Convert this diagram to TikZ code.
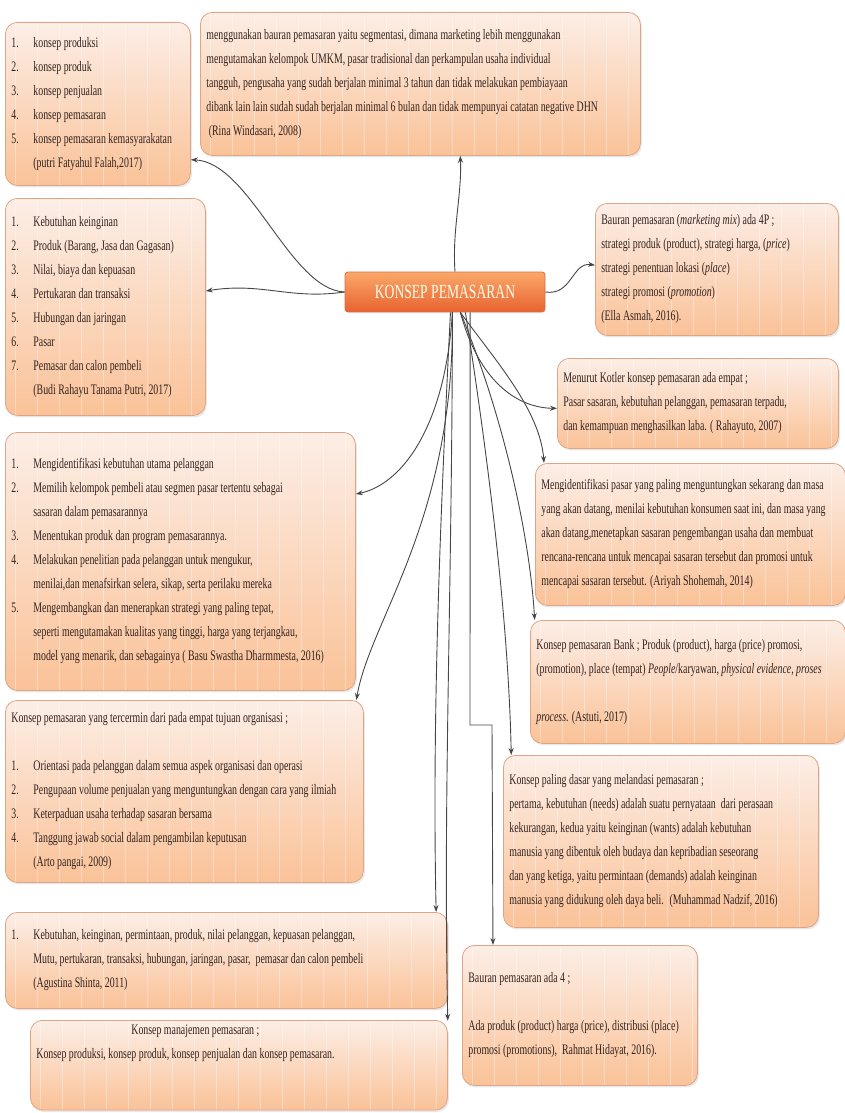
\documentclass[tikz,border=0pt]{standalone}
\usepackage{fontspec}
\setmainfont{Liberation Serif}
\newfontfamily\boxfont[FakeStretch=0.68]{Liberation Serif}
\usetikzlibrary{arrows.meta, shadows}

\definecolor{boxtop}{RGB}{252,238,230}
\definecolor{boxbot}{RGB}{250,194,152}
\definecolor{boxline}{RGB}{222,166,134}
\definecolor{hubtop}{RGB}{250,168,105}
\definecolor{hubbot}{RGB}{232,98,48}
\definecolor{hubline}{RGB}{214,110,70}
\definecolor{ink}{RGB}{50,34,30}
\definecolor{wire}{RGB}{70,70,70}

\newcommand{\nr}[1]{\makebox[22pt][l]{#1.}}
\newcommand{\ind}{\hspace*{22pt}}

\tikzset{
  box/.style={draw=boxline, line width=0.8pt, rounded corners=12pt,
    top color=boxtop, bottom color=boxbot, anchor=north west, align=flush left,
    inner xsep=6pt, inner ysep=4pt, text=ink,
    font=\boxfont\fontsize{14.5}{24}\selectfont,
    drop shadow={opacity=0.18, shadow xshift=1.5pt, shadow yshift=-2pt},
    path picture={\foreach \s in {0,...,40}
      \draw[white, opacity=0.35, line width=1.2pt]
        ([xshift=\s*22pt+10pt]path picture bounding box.south west) --
        ([xshift=\s*22pt+10pt]path picture bounding box.north west);}},
  hub/.style={draw=hubline, line width=0.8pt, rounded corners=3pt,
    top color=hubtop, bottom color=hubbot, minimum width=200pt,
    minimum height=40pt, text={white!92!yellow},
    font=\boxfont\fontsize{20}{20}\selectfont},
  wire/.style={draw=wire, line width=0.9pt, ->},
}

\begin{document}
\begin{tikzpicture}[x=1pt, y=-1pt, >={Stealth[length=7pt,width=5pt]}]
    \useasboundingbox (0,0) rectangle (845,1113);
    % Centre
    \node[hub] (KP) at (445,292) {KONSEP PEMASARAN};
    % Boxes, top left to bottom right
    \node[box, text width=173pt, minimum height=163pt] (B1) at (5,22)
      {\nr{1}konsep produksi\\ \nr{2}konsep produk\\ \nr{3}konsep penjualan\\
       \nr{4}konsep pemasaran\\ \nr{5}konsep pemasaran kemasyarakatan\\
       \ind(putri Fatyahul Falah,2017)};
    \node[box, text width=428pt, minimum height=143pt] (B2) at (200,12)
      {menggunakan bauran pemasaran yaitu segmentasi, dimana marketing lebih menggunakan\\
       mengutamakan kelompok UMKM, pasar tradisional dan perkampulan usaha individual\\
       tangguh, pengusaha yang sudah berjalan minimal 3 tahun dan tidak melakukan pembiayaan\\
       dibank lain lain sudah sudah berjalan minimal 6 bulan dan tidak mempunyai catatan negative DHN\\
       \ (Rina Windasari, 2008)};
    \node[box, text width=188pt, minimum height=217pt] (B3) at (5,198)
      {\nr{1}Kebutuhan keinginan\\ \nr{2}Produk (Barang, Jasa dan Gagasan)\\
       \nr{3}Nilai, biaya dan kepuasan\\ \nr{4}Pertukaran dan transaksi\\
       \nr{5}Hubungan dan jaringan\\ \nr{6}Pasar\\ \nr{7}Pemasar dan calon pembeli\\
       \ind(Budi Rahayu Tanama Putri, 2017)};
    \node[box, text width=231pt, minimum height=132pt] (B4) at (595,203)
      {Bauran pemasaran (\textit{marketing mix}) ada 4P ;\\
       strategi produk (product), strategi harga, (\textit{price})\\
       strategi penentuan lokasi (\textit{place})\\
       strategi promosi (\textit{promotion})\\
       (Ella Asmah, 2016).};
    \node[box, text width=269pt, minimum height=90pt] (B5) at (557,358)
      {Menurut Kotler konsep pemasaran ada empat ;\\
       Pasar sasaran, kebutuhan pelanggan, pemasaran terpadu,\\
       dan kemampuan menghasilkan laba. ( Rahayuto, 2007)};
    \node[box, text width=298pt, minimum height=142pt] (B6) at (535,463)
      {Mengidentifikasi pasar yang paling menguntungkan sekarang dan masa\\
       yang akan datang, menilai kebutuhan konsumen saat ini, dan masa yang\\
       akan datang,menetapkan sasaran pengembangan usaha dan membuat\\
       rencana-rencana untuk mencapai sasaran tersebut dan promosi untuk\\
       mencapai sasaran tersebut. (Ariyah Shohemah, 2014)};
    \node[box, text width=338pt, minimum height=258pt] (B7) at (5,432)
      {\nr{1}Mengidentifikasi kebutuhan utama pelanggan\\
       \nr{2}Memilih kelompok pembeli atau segmen pasar tertentu sebagai\\
       \ind sasaran dalam pemasarannya\\
       \nr{3}Menentukan produk dan program pemasarannya.\\
       \nr{4}Melakukan penelitian pada pelanggan untuk mengukur,\\
       \ind menilai,dan menafsirkan selera, sikap, serta perilaku mereka\\
       \nr{5}Mengembangkan dan menerapkan strategi yang paling tepat,\\
       \ind seperti mengutamakan kualitas yang tinggi, harga yang terjangkau,\\
       \ind model yang menarik, dan sebagainya ( Basu Swastha Dharmmesta, 2016)};
    \node[box, text width=303pt, minimum height=123pt] (B8) at (530,620)
      {Konsep pemasaran Bank ; Produk (product), harga (price) promosi,\\
       (promotion), place (tempat) \textit{People}/karyawan, \textit{physical evidence, proses}\\[24pt]
       \textit{process}. (Astuti, 2017)};
    \node[box, text width=346pt, minimum height=182pt] (B9) at (5,700)
      {Konsep pemasaran yang tercermin dari pada empat tujuan organisasi ;\\[24pt]
       \nr{1}Orientasi pada pelanggan dalam semua aspek organisasi dan operasi\\
       \nr{2}Pengupaan volume penjualan yang menguntungkan dengan cara yang ilmiah\\
       \nr{3}Keterpaduan usaha terhadap sasaran bersama\\
       \nr{4}Tanggung jawab social dalam pengambilan keputusan\\
       \ind (Arto pangai, 2009)};
    \node[box, text width=303pt, minimum height=172pt] (B10) at (503,755)
      {Konsep paling dasar yang melandasi pemasaran ;\\
       pertama, kebutuhan (needs) adalah suatu pernyataan \ dari perasaan\\
       kekurangan, kedua yaitu keinginan (wants) adalah kebutuhan\\
       manusia yang dibentuk oleh budaya dan kepribadian seseorang\\
       dan yang ketiga, yaitu permintaan (demands) adalah keinginan\\
       manusia yang didukung oleh daya beli. \ (Muhammad Nadzif, 2016)};
    \node[box, text width=430pt, minimum height=96pt] (B11) at (5,912)
      {\nr{1}Kebutuhan, keinginan, permintaan, produk, nilai pelanggan, kepuasan pelanggan,\\
       \ind Mutu, pertukaran, transaksi, hubungan, jaringan, pasar, \ pemasar dan calon pembeli\\
       \ind (Agustina Shinta, 2011)};
    \node[box, text width=223pt, minimum height=140pt] (B12) at (462,945)
      {Bauran pemasaran ada 4 ;\\[24pt]
       Ada produk (product) harga (price), distribusi (place)\\
       promosi (promotions), \ Rahmat Hidayat, 2016).};
    \node[box, text width=405pt, minimum height=85pt] (B13) at (30,1020)
      {\hspace*{95pt}Konsep manajemen pemasaran ;\\
       Konsep produksi, konsep produk, konsep penjualan dan konsep pemasaran.\\
       \mbox{}\\ \mbox{}};
    % Connectors from the centre
    \draw[wire] (KP.west) .. controls (290,290) and (250,162) .. (B1.-31);
    \draw[wire] ([xshift=10pt]KP.north) .. controls (452,230) and (462,195) .. (B2.-61);
    \draw[wire] (KP.west) .. controls (290,300) and (262,282) .. (B3.9);
    \draw[wire] (KP.east) .. controls (572,296) and (572,262) .. (B4.178);
    \draw[wire] (KP.-53) .. controls (480,385) and (520,408) .. (B5.-178);
    \draw[wire] (KP.-53) .. controls (495,360) and (540,410) .. (B6.154);
    \draw[wire] (KP.-70) .. controls (445,430) and (400,485) .. (B7.21);
    \draw[wire] (KP.-53) .. controls (505,420) and (530,540) .. (B8.158);
    \draw[wire] (KP.-70) .. controls (455,520) and (370,620) .. (B9.28);
    \draw[wire] (KP.-45) .. controls (482,420) and (508,600) .. (B10.150);
    \draw[wire] (KP.-75) .. controls (440,520) and (432,720) .. (B11.13);
    \draw[wire] (KP.-39) -- (470,725) -- (492,725) -- (B12.141);
    \draw[wire] (KP.-70) .. controls (452,600) and (443,800) .. (B13.12);
\end{tikzpicture}
\end{document}
